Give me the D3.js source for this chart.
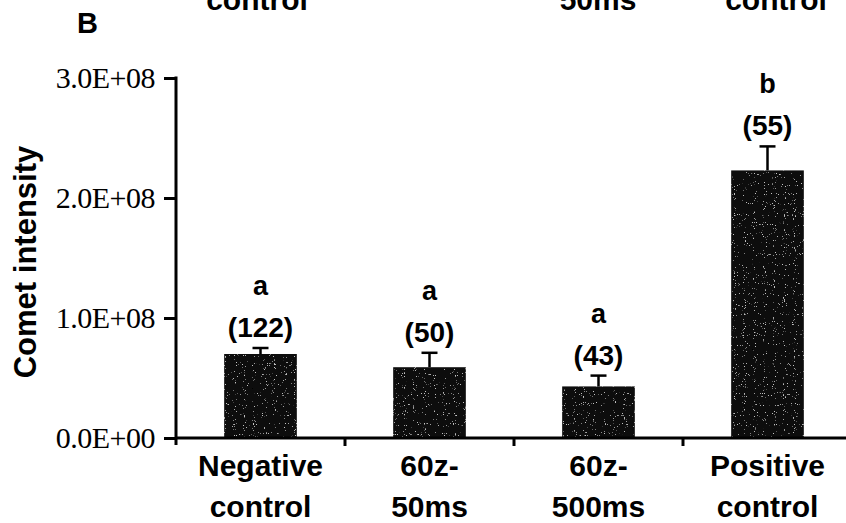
<!DOCTYPE html>
<html>
<head>
<meta charset="utf-8">
<script src="https://cdn.jsdelivr.net/npm/d3@7"></script>
<style>
  body { margin: 0; background: #fff; }
  svg text { fill: #000; }
</style>
</head>
<body>
<div id="chart"></div>
<script>
let width = 846, height = 523;
let margin = { left: 176, top: 78, bottom: 85 };

// data
let categories = ['Negative control', '60z-50ms', '60z-500ms', 'Positive control'];
let catLines = [['Negative', 'control'], ['60z-', '50ms'], ['60z-', '500ms'], ['Positive', 'control']];
let means = [7.0e7, 5.9e7, 4.3e7, 2.23e8];
let sems = [0.5e7, 1.2e7, 0.9e7, 2.0e7];
let letters = ['a', 'a', 'a', 'b'];
let counts = [122, 50, 43, 55];
let yTicks = [0, 1e8, 2e8, 3e8];
let yTickLabels = ['0.0E+00', '1.0E+08', '2.0E+08', '3.0E+08'];
// bits of panel A's labels, cut by the top edge
let topLeftovers = [['control', 257], ['50ms', 598], ['control', 776]];

let svg = d3.select('#chart').append('svg')
  .attr('width', width)
  .attr('height', height);

// speckle look of the scanned bars
let f = svg.append('defs').append('filter').attr('id', 'speck')
  .attr('x', 0).attr('y', 0).attr('width', 1).attr('height', 1);
f.append('feTurbulence').attr('type', 'fractalNoise').attr('baseFrequency', 0.9)
  .attr('numOctaves', 1).attr('seed', 4).attr('result', 'n');
f.append('feColorMatrix').attr('in', 'n').attr('type', 'matrix')
  .attr('values', '0 0 0 0 0.55  0 0 0 0 0.55  0 0 0 0 0.55  14 0 0 0 -9.4')
  .attr('result', 'dots');
f.append('feComposite').attr('in', 'dots').attr('in2', 'SourceGraphic')
  .attr('operator', 'in').attr('result', 'd2');
let fm = f.append('feMerge');
fm.append('feMergeNode').attr('in', 'SourceGraphic');
fm.append('feMergeNode').attr('in', 'd2');

let x = d3.scaleBand().domain(categories).range([margin.left, 852]).padding(0);
let y = d3.scaleLinear().domain([0, 3e8]).range([438, margin.top]);
let barW = x.bandwidth() * 0.43;

// panel letter + cut-off text from above
svg.append('text').attr('x', 77).attr('y', 33)
  .style('font-family', 'Liberation Sans, Arial, sans-serif')
  .style('font-weight', 'bold').style('font-size', '29px')
  .text('B');

svg.selectAll('.leftover').data(topLeftovers).enter().append('text')
  .attr('class', 'leftover')
  .attr('x', d => d[1]).attr('y', 10)
  .attr('text-anchor', 'middle')
  .style('font-family', 'Liberation Sans, Arial, sans-serif')
  .style('font-weight', 'bold').style('font-size', '30px')
  .text(d => d[0]);

// bars
svg.selectAll('.bar').data(categories).enter().append('rect')
  .attr('class', 'bar')
  .attr('x', d => x(d) + x.bandwidth() / 2 - barW / 2)
  .attr('y', (d, i) => y(means[i]))
  .attr('width', barW)
  .attr('height', (d, i) => y(0) - y(means[i]))
  .attr('fill', '#111')
  .attr('filter', 'url(#speck)');

// error bars (upper only)
let eb = svg.selectAll('.err').data(categories).enter().append('g').attr('class', 'err');
eb.append('line')
  .attr('x1', d => x(d) + x.bandwidth() / 2)
  .attr('x2', d => x(d) + x.bandwidth() / 2)
  .attr('y1', (d, i) => y(means[i]))
  .attr('y2', (d, i) => y(means[i] + sems[i]))
  .attr('stroke', '#000').attr('stroke-width', 2.5);
eb.append('line')
  .attr('x1', d => x(d) + x.bandwidth() / 2 - 8)
  .attr('x2', d => x(d) + x.bandwidth() / 2 + 8)
  .attr('y1', (d, i) => y(means[i] + sems[i]))
  .attr('y2', (d, i) => y(means[i] + sems[i]))
  .attr('stroke', '#000').attr('stroke-width', 2.5);

// group letters and n
svg.selectAll('.cnt').data(categories).enter().append('text')
  .attr('class', 'cnt')
  .attr('x', d => x(d) + x.bandwidth() / 2)
  .attr('y', (d, i) => y(means[i] + sems[i]) - 11)
  .attr('text-anchor', 'middle')
  .style('font-family', 'Liberation Sans, Arial, sans-serif')
  .style('font-weight', 'bold').style('font-size', '28px')
  .text((d, i) => '(' + counts[i] + ')');

svg.selectAll('.let').data(categories).enter().append('text')
  .attr('class', 'let')
  .attr('x', d => x(d) + x.bandwidth() / 2)
  .attr('y', (d, i) => y(means[i] + sems[i]) - 53)
  .attr('text-anchor', 'middle')
  .style('font-family', 'Liberation Sans, Arial, sans-serif')
  .style('font-weight', 'bold').style('font-size', '27px')
  .text((d, i) => letters[i]);

// y axis
let yAxis = d3.axisLeft(y).tickValues(yTicks)
  .tickFormat((d, i) => yTickLabels[i])
  .tickSize(12).tickPadding(9);
let gy = svg.append('g').attr('transform', 'translate(' + margin.left + ',0)').call(yAxis);
gy.select('.domain').remove();
gy.selectAll('.tick line').attr('stroke', '#000').attr('stroke-width', 3);
gy.selectAll('.tick text')
  .style('font-family', 'Liberation Serif, Times New Roman, serif')
  .style('font-size', '30px')
  .style('letter-spacing', '-0.5px');
gy.append('line').attr('x1', 0).attr('x2', 0)
  .attr('y1', y(3e8) - 1.5).attr('y2', y(0) + 7)
  .attr('stroke', '#000').attr('stroke-width', 3);

// x axis with ticks at the band edges
let g = svg.append('g');
g.append('line').attr('x1', margin.left).attr('x2', width)
  .attr('y1', y(0)).attr('y2', y(0))
  .attr('stroke', '#000').attr('stroke-width', 3);
g.selectAll('.xt').data(categories.slice(1)).enter().append('line')
  .attr('class', 'xt')
  .attr('x1', d => x(d)).attr('x2', d => x(d))
  .attr('y1', y(0)).attr('y2', y(0) + 8)
  .attr('stroke', '#000').attr('stroke-width', 3);

let lab = svg.selectAll('.xlab').data(categories).enter().append('text')
  .attr('class', 'xlab')
  .attr('text-anchor', 'middle')
  .style('font-family', 'Liberation Sans, Arial, sans-serif')
  .style('font-weight', 'bold').style('font-size', '30px');
lab.selectAll('tspan').data((d, i) => catLines[i].map(t => [t, x(d) + x.bandwidth() / 2]))
  .enter().append('tspan')
  .attr('x', d => d[1])
  .attr('y', (d, j) => 476 + j * 41)
  .text(d => d[0]);

// y axis title
svg.append('text')
  .attr('transform', 'translate(36,262) rotate(-90)')
  .attr('text-anchor', 'middle')
  .style('font-family', 'Liberation Sans, Arial, sans-serif')
  .style('font-weight', 'bold').style('font-size', '31px')
  .text('Comet intensity');
</script>
</body>
</html>
